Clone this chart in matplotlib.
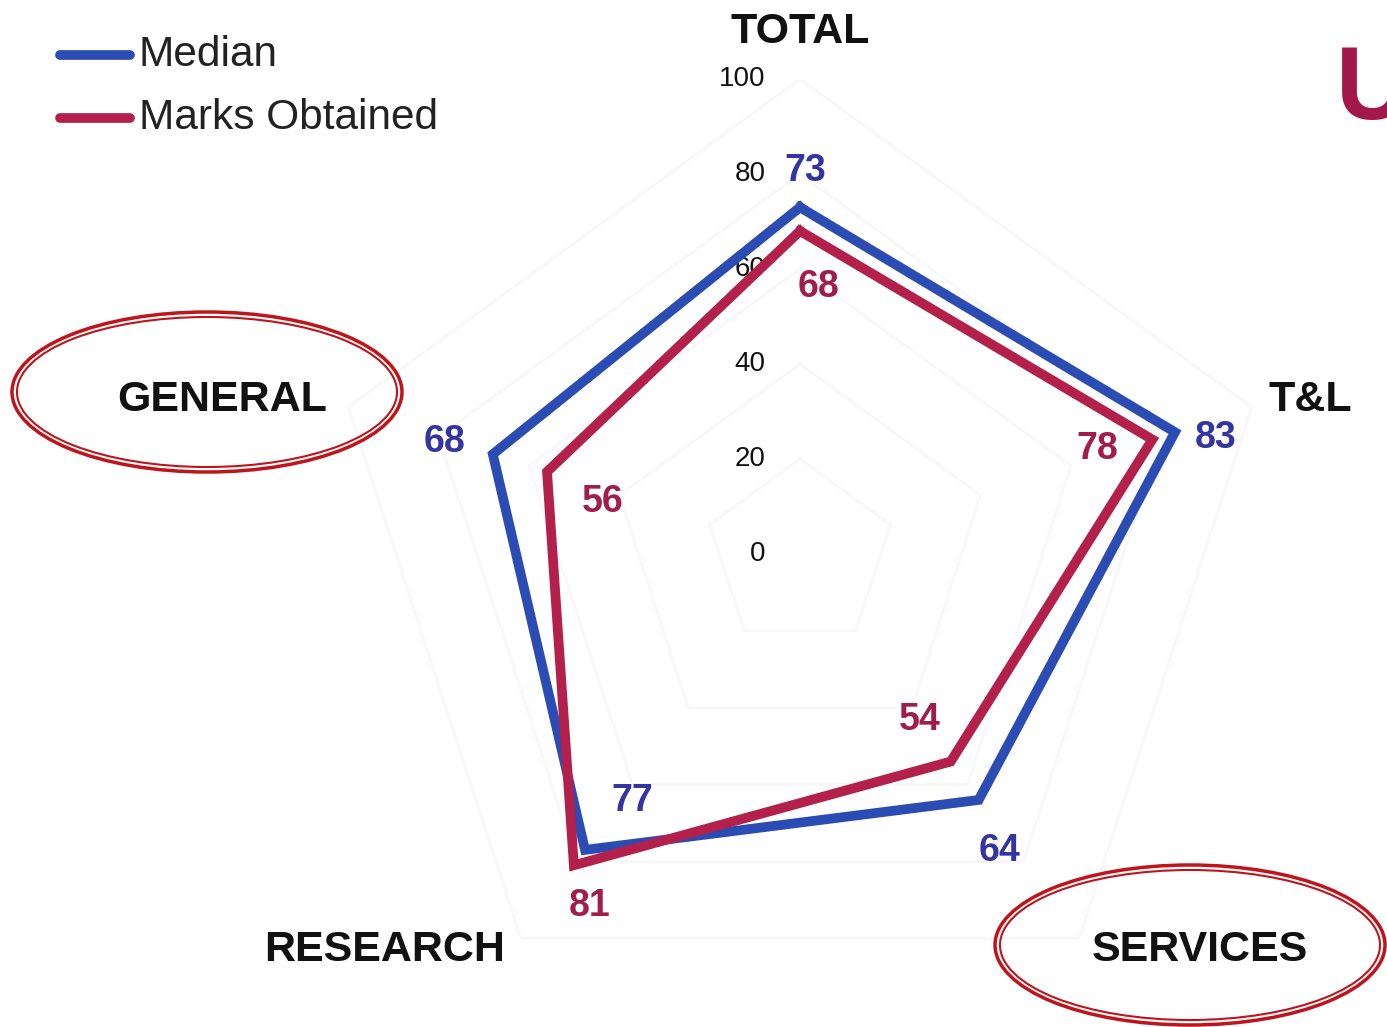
import numpy as np
import matplotlib.pyplot as plt
from matplotlib.patches import Ellipse

plt.rcParams['font.family'] = ['Liberation Sans', 'DejaVu Sans']

# data
categories = ['TOTAL', 'T&L', 'SERVICES', 'RESEARCH', 'GENERAL']
median = [73, 83, 64, 77, 68]
marks = [68, 78, 54, 81, 56]
ticks = [0, 20, 40, 60, 80, 100]

blue = '#2b4db3'
red = '#b3204c'
blue_txt = '#3434a2'
red_txt = '#a21e4a'

fig = plt.figure(figsize=(13.87, 10.27), dpi=100)
fig.patch.set_facecolor('white')

# polar axes centred at (800, 554) px, radius 100 -> 475 px
W, H = 1387, 1027
cx, cy, R = 800, 554, 475
ax = fig.add_axes([(cx - R) / W, 1 - (cy + R) / H, 2 * R / W, 2 * R / H],
                  projection='polar')
ax.set_theta_offset(np.pi / 2)
ax.set_theta_direction(-1)
ax.set_ylim(0, 100)
ax.grid(False)
ax.spines['polar'].set_visible(False)
ax.set_xticks([])
ax.set_yticks([])
ax.patch.set_alpha(0)

angles = np.linspace(0, 2 * np.pi, len(categories), endpoint=False)
closed = np.append(angles, angles[0])

# very faint pentagon grid (washed out in the original)
for t in ticks[1:]:
    ax.plot(closed, [t] * len(closed), color='#f8f8f8', lw=2, zorder=1)

ax.plot(closed, median + median[:1], color=blue, lw=7, solid_joinstyle='miter', zorder=3)
ax.plot(closed, marks + marks[:1], color=red, lw=7, solid_joinstyle='miter', zorder=4)

# radial tick labels
for t in ticks:
    ax.annotate(str(t), xy=(0, t), xytext=(-25, 0), textcoords='offset points',
                ha='right', va='center', fontsize=20, color='#111111', zorder=2)

# value labels (offsets in points)
med_off = [(4, 26), (29, -4), (15, -37), (34, 35), (-35, 9)]
mark_off = [(13, -40), (-40, -7), (-22, 30), (11, -29), (40, -22)]
for a, v, o in zip(angles, median, med_off):
    ax.annotate(str(v), xy=(a, v), xytext=o, textcoords='offset points',
                ha='center', va='center', fontsize=27, fontweight='bold',
                color=blue_txt, zorder=5)
for a, v, o in zip(angles, marks, mark_off):
    ax.annotate(str(v), xy=(a, v), xytext=o, textcoords='offset points',
                ha='center', va='center', fontsize=27, fontweight='bold',
                color=red_txt, zorder=5)

# overlay in pixel coordinates for labels, legend and marks
ov = fig.add_axes([0, 0, 1, 1])
ov.set_xlim(0, W)
ov.set_ylim(H, 0)
ov.axis('off')
ov.patch.set_alpha(0)

cat_pos = [(800, 32), (1310, 400), (1200, 950), (385, 950), (222, 400)]
for name, (x, y) in zip(categories, cat_pos):
    ov.text(x, y, name, ha='center', va='center', fontsize=31,
            fontweight='bold', color='#111111')

for (x, y) in [(207, 392), (1190, 945)]:
    ov.add_patch(Ellipse((x, y), 390, 160, fill=False, ec='#c0141c', lw=2.5))
    ov.add_patch(Ellipse((x, y), 380, 150, fill=False, ec='#c0141c', lw=1.5))

# partial title letter cut by the right edge, as in the original
ov.text(1336, 92, 'U', ha='left', va='center', fontsize=74,
        fontweight='bold', color='#a3184a', clip_on=True)

# legend
ov.plot([60, 130], [55, 55], color=blue, lw=7, solid_capstyle='round')
ov.plot([60, 130], [118, 118], color=red, lw=7, solid_capstyle='round')
ov.text(139, 55, 'Median', ha='left', va='center', fontsize=30.5, color='#222222')
ov.text(139, 118, 'Marks Obtained', ha='left', va='center', fontsize=30.5, color='#222222')

fig.savefig('out.png', dpi=100, facecolor='white')
